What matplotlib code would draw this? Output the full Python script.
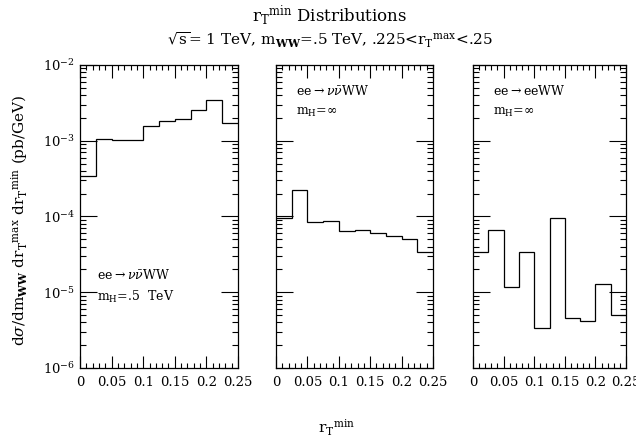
import numpy as np
import matplotlib
matplotlib.use('Agg')
import matplotlib.pyplot as plt
from matplotlib.ticker import MultipleLocator, LogLocator, NullFormatter

plt.rcParams['font.family'] = 'DejaVu Serif'
plt.rcParams['mathtext.fontset'] = 'dejavuserif'

#_Data__________________________________________________________________________
edges = [0, 0.025, 0.05, 0.075, 0.1, 0.125, 0.15, 0.175, 0.2, 0.225, 0.25]
xticks = [0, 0.05, 0.1, 0.15, 0.2, 0.25]
xticklabels = ['0', '0.05', '0.1', '0.15', '0.2', '0.25']

# ee -> nu nubar WW, m_H = .5 TeV
nunu_mh500 = [3.4e-4, 1.06e-3, 1.03e-3, 1.01e-3, 1.55e-3, 1.84e-3, 1.94e-3,
              2.55e-3, 3.42e-3, 1.7e-3]
# ee -> nu nubar WW, m_H = infinity
nunu_mhinf = [9.5e-5, 2.22e-4, 8.4e-5, 8.65e-5, 6.4e-5, 6.6e-5, 6.05e-5,
              5.5e-5, 5.1e-5, 3.45e-5]
# ee -> ee WW, m_H = infinity
ee_mhinf = [3.4e-5, 6.7e-5, 1.16e-5, 3.35e-5, 3.4e-6, 9.7e-5, 4.6e-6,
            4.2e-6, 1.3e-5, 5.0e-6]

panels = [
    (nunu_mh500, r'ee$\rightarrow\nu\bar{\nu}$WW', r'm$_\mathrm{H}$=.5  TeV', 'low'),
    (nunu_mhinf, r'ee$\rightarrow\nu\bar{\nu}$WW', r'm$_\mathrm{H}$=$\infty$', 'high'),
    (ee_mhinf, r'ee$\rightarrow$eeWW', r'm$_\mathrm{H}$=$\infty$', 'high'),
]

#_Layout________________________________________________________________________
W, H = 636, 443
fig = plt.figure(figsize=(W/100, H/100), dpi=100)
boxes = [(80, 238), (276, 433), (473, 626)]
top, bottom = 65, 368

for i, ((vals, proc, mh, where), (x0, x1)) in enumerate(zip(panels, boxes)):
    ax = fig.add_axes([x0/W, 1 - bottom/H, (x1 - x0)/W, (bottom - top)/H])
    ax.stairs(vals, edges, baseline=None, color='k', lw=0.9)
    ax.set_yscale('log')
    ax.set_ylim(1e-6, 1e-2)
    ax.set_xlim(0, 0.25)
    ax.set_xticks(xticks)
    ax.set_xticklabels(xticklabels)
    ax.xaxis.set_minor_locator(MultipleLocator(0.01))
    ax.yaxis.set_major_locator(LogLocator(base=10, numticks=10))
    ax.yaxis.set_minor_locator(LogLocator(base=10, subs=np.arange(2, 10),
                                          numticks=10))
    ax.yaxis.set_minor_formatter(NullFormatter())
    ax.tick_params(which='both', direction='in', top=True, right=True,
                   labelsize=9.5, width=0.8)
    ax.tick_params(axis='x', which='major', length=9, pad=6)
    ax.tick_params(axis='x', which='minor', length=3.5)
    ax.tick_params(axis='y', which='major', length=12)
    ax.tick_params(axis='y', which='minor', length=4)
    if i > 0:
        ax.tick_params(axis='y', labelleft=False)
    for sp in ax.spines.values():
        sp.set_linewidth(0.9)
    if where == 'low':
        ax.text(0.105, 0.295, proc, transform=ax.transAxes, fontsize=9)
        ax.text(0.105, 0.22, mh, transform=ax.transAxes, fontsize=9)
    else:
        ax.text(0.13, 0.9, proc, transform=ax.transAxes, fontsize=9)
        ax.text(0.13, 0.835, mh, transform=ax.transAxes, fontsize=9)

#_Labels________________________________________________________________________
fig.text(330/W, 1 - 16/H, r'r$_\mathrm{T}$$^\mathrm{min}$ Distributions',
         ha='center', va='center', fontsize=12)
fig.text(330/W, 1 - 40/H,
         r'$\sqrt{\mathrm{s}}$= 1 TeV, m$_\mathbf{WW}$=.5 TeV, '
         r'.225<r$_\mathrm{T}$$^\mathrm{max}$<.25',
         ha='center', va='center', fontsize=11)
fig.text(20/W, 1 - 220/H,
         r'd$\sigma$/dm$_\mathbf{WW}$ dr$_\mathrm{T}$$^\mathrm{max}$ '
         r'dr$_\mathrm{T}$$^\mathrm{min}$ (pb/GeV)',
         rotation=90, ha='center', va='center', fontsize=11)
fig.text(337/W, 1 - 428/H, r'r$_\mathrm{T}$$^\mathrm{min}$', ha='center',
         va='center', fontsize=11)

fig.savefig('out.png', dpi=100)
